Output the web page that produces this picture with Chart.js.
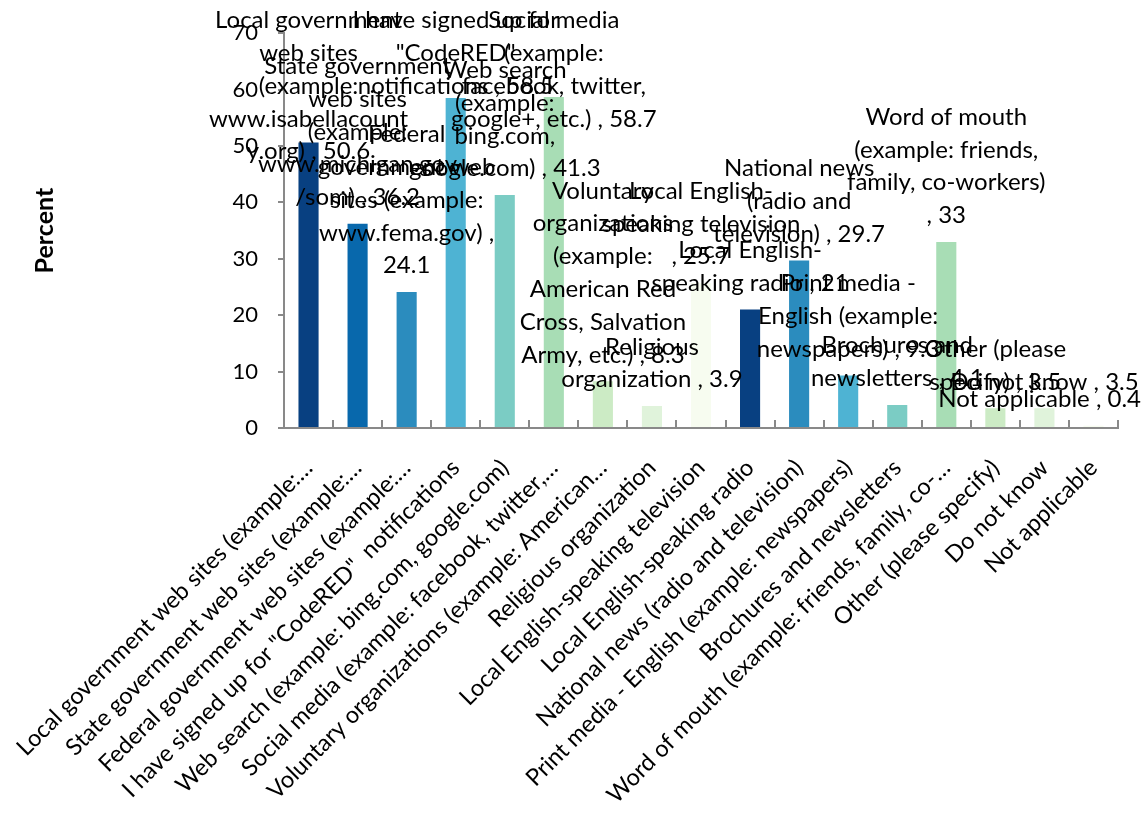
<!DOCTYPE html>
<html>
<head>
<meta charset="utf-8">
<script src="https://cdn.jsdelivr.net/npm/chart.js@4/dist/chart.umd.min.js"></script>
<style>
  body { margin: 0; background: #fff; }
  #wrap { width: 1147px; height: 814px; }
</style>
</head>
<body>
<div id="wrap"><canvas id="chart" width="1147" height="814"></canvas></div>
<script>
var categories = [
    'Local government web sites (example: www.isabellacounty.org)',
    'State government web sites (example: www.michigan.gov/som)',
    'Federal government web sites (example: www.fema.gov)',
    'I have signed up for "CodeRED" notifications',
    'Web search (example: bing.com, google.com)',
    'Social media (example: facebook, twitter, google+, etc.)',
    'Voluntary organizations (example: American Red Cross, Salvation Army, etc.)',
    'Religious organization',
    'Local English-speaking television',
    'Local English-speaking radio',
    'National news (radio and television)',
    'Print media - English (example: newspapers)',
    'Brochures and newsletters',
    'Word of mouth (example: friends, family, co-workers)',
    'Other (please specify)',
    'Do not know',
    'Not applicable'
];

var values = [50.6, 36.2, 24.1, 58.5, 41.3, 58.7, 8.3, 3.9, 25.7, 21, 29.7, 9.3, 4.1, 33, 3.5, 3.5, 0.4];

// axis labels as shown (long ones cut off)
var tickLabels = [
    'Local government web sites (example:\u2026',
    'State government web sites (example:\u2026',
    'Federal government web sites (example:\u2026',
    'I have signed up for "CodeRED"  notifications',
    'Web search (example: bing.com, google.com)',
    'Social media (example: facebook, twitter,\u2026',
    'Voluntary organizations (example: American\u2026',
    'Religious organization',
    'Local English-speaking television',
    'Local English-speaking radio',
    'National news (radio and television)',
    'Print media - English (example: newspapers)',
    'Brochures and newsletters',
    'Word of mouth (example: friends, family, co-\u2026',
    'Other (please specify)',
    'Do not know',
    'Not applicable'
];

// data label text, wrapped as in the picture; {v} is the value
var labelLines = [
    ['Local government', 'web sites', '(example:', 'www.isabellacount', 'y.org) , {v}'],
    ['State government', 'web sites', '(example:', 'www.michigan.gov', '/som) , {v}'],
    ['Federal', 'government web', 'sites (example:', 'www.fema.gov) ,', '{v}'],
    ['I have signed up for', '"CodeRED"', 'notifications , {v}'],
    ['Web search', '(example:', 'bing.com,', 'google.com) , {v}'],
    ['Social media', '(example:', 'facebook, twitter,', 'google+, etc.) , {v}'],
    ['Voluntary', 'organizations', '(example:', 'American Red', 'Cross, Salvation', 'Army, etc.) , {v}'],
    ['Religious', 'organization , {v}'],
    ['Local English-', 'speaking television', ', {v}'],
    ['Local English-', 'speaking radio , {v}'],
    ['National news', '(radio and', 'television) , {v}'],
    ['Print media -', 'English (example:', 'newspapers) , {v}'],
    ['Brochures and', 'newsletters , {v}'],
    ['Word of mouth', '(example: friends,', 'family, co-workers)', ', {v}'],
    ['Other (please', 'specify) , {v}'],
    ['Do not know , {v}'],
    ['Not applicable , {v}']
];

var barColors = [
    '#084081', '#0868ac', '#2b8cbe', '#4eb3d3', '#7bccc4', '#a8ddb5', '#ccebc5', '#e0f3db', '#f7fcf0',
    '#084081', '#2b8cbe', '#4eb3d3', '#7bccc4', '#a8ddb5', '#ccebc5', '#e0f3db', '#f7fcf0'
];

var axisGrey = '#898989';

// draws the wrapped "name , value" labels above the bars
var barLabels = {
    id: 'barLabels',
    afterDatasetsDraw: function (chart) {
        var ctx = chart.ctx,
            meta = chart.getDatasetMeta(0),
            lh = 32.8;
        ctx.save();
        ctx.font = '24px Lato';
        ctx.fillStyle = '#000';
        ctx.textAlign = 'center';
        ctx.textBaseline = 'middle';
        meta.data.forEach(function (bar, i) {
            var lines = labelLines[i].map(function (t) {
                return t.replace('{v}', values[i]);
            });
            var top = bar.y - 10 - lines.length * lh;
            if (top < 4) top = 4;
            var w = 0;
            lines.forEach(function (t) { w = Math.max(w, ctx.measureText(t).width); });
            var cx = bar.x;
            if (cx + w / 2 > chart.width - 6) cx = chart.width - 6 - w / 2;
            lines.forEach(function (t, k) {
                ctx.fillText(t, cx, top + lh * (k + 0.5));
            });
        });
        ctx.restore();
    }
};

var myChart = new Chart(document.getElementById('chart'), {
    type: 'bar',
    data: {
        labels: tickLabels,
        datasets: [
            {
                label: 'Percent',
                data: values,
                backgroundColor: barColors,
                categoryPercentage: 1,
                barPercentage: 0.41
            }
        ]
    },
    options: {
        responsive: false,
        animation: false,
        layout: {
            padding: { top: 30, right: 29, left: 0, bottom: 0 }
        },
        plugins: {
            legend: { display: false },
            tooltip: { enabled: false }
        },
        scales: {
            x: {
                grid: {
                    drawOnChartArea: false,
                    offset: true,
                    tickLength: -8,
                    color: axisGrey,
                    lineWidth: 2
                },
                border: { color: axisGrey, width: 2 },
                ticks: {
                    autoSkip: false,
                    minRotation: 45,
                    maxRotation: 45,
                    padding: 34,
                    color: '#000',
                    font: { family: 'Lato', size: 23.5 }
                },
                afterFit: function (scale) {
                    scale.height = 386;
                    scale.paddingLeft = 0;
                    scale.paddingRight = 0;
                }
            },
            y: {
                min: 0,
                max: 70,
                grid: {
                    drawOnChartArea: false,
                    tickLength: 6,
                    color: axisGrey,
                    lineWidth: 2
                },
                border: { color: axisGrey, width: 2 },
                ticks: {
                    stepSize: 10,
                    padding: 20,
                    color: '#000',
                    font: { family: 'Lato', size: 22 }
                },
                title: {
                    display: true,
                    text: 'Percent',
                    color: '#000',
                    font: { family: 'Lato', size: 25, weight: 'bold' },
                    padding: { top: 30, bottom: 0 }
                },
                afterFit: function (scale) {
                    scale.width = 284;
                }
            }
        }
    },
    plugins: [barLabels]
});
</script>
</body>
</html>
